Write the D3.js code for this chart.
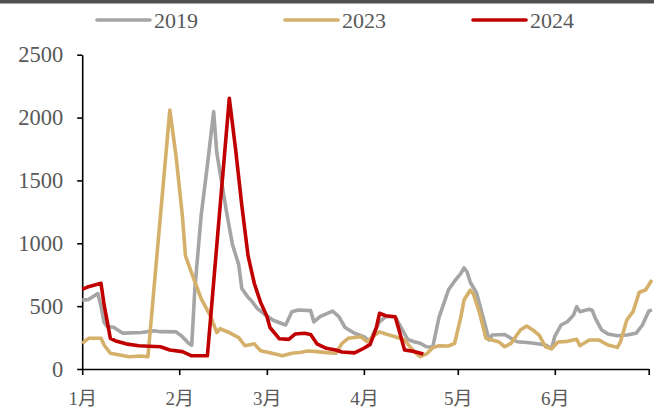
<!DOCTYPE html>
<html>
<head>
<meta charset="utf-8">
<script src="https://cdn.jsdelivr.net/npm/d3@7"></script>
<style>
  html, body { margin: 0; padding: 0; background: #fff; }
  svg { display: block; }
  text { font-family: "Liberation Serif", "Times New Roman", "Noto Sans CJK SC", serif; }
</style>
</head>
<body>
<svg id="chart" width="654" height="412"></svg>
<script>
// Series names and colours
const seriesNames = ["2019", "2023", "2024"];
const seriesColors = ["#A5A5A5", "#D5B06B", "#C00000"];

// Month-day of each observation and its value, per year
const dates2019 = ["01-01","01-03","01-06","01-07","01-08","01-09","01-11","01-14","01-20","01-24","01-26","01-31",
  "02-02","02-04","02-05","02-06","02-08","02-10","02-12","02-13","02-15","02-16","02-18","02-20","02-21","02-23",
  "02-24","02-26","02-28","03-03","03-07","03-09","03-11","03-15","03-16","03-18","03-22","03-24","03-26","03-29",
  "04-01","04-03","04-04","04-06","04-08","04-11","04-13","04-15","04-17","04-19","04-21","04-23","04-25","04-28",
  "04-30","05-02","05-03","05-04","05-05","05-07","05-09","05-11","05-12","05-16","05-18","05-20","05-24","05-27",
  "05-29","05-31","06-01","06-03","06-05","06-07","06-08","06-09","06-12","06-13","06-14","06-16","06-18","06-21",
  "06-24","06-27","06-29","07-01","07-02"];
const values2019 = [549,552,600,500,370,337,332,285,290,305,297,295,
  257,205,190,640,1220,1620,2047,1720,1420,1265,990,830,640,570,
  545,480,440,388,350,456,469,464,375,416,460,416,330,284,
  257,220,280,376,416,416,324,236,217,204,177,175,410,628,
  700,760,805,770,690,605,420,231,270,275,244,217,209,199,
  191,164,260,350,376,430,496,456,475,465,400,310,278,265,
  270,285,350,460,470];

const dates2023 = ["01-01","01-03","01-07","01-08","01-10","01-13","01-16","01-20","01-22","01-29","01-31",
  "02-02","02-03","02-05","02-08","02-11","02-13","02-14","02-17","02-20","02-22","02-25","02-27",
  "03-02","03-06","03-09","03-12","03-14","03-17","03-20","03-23","03-25","03-27","03-31",
  "04-02","04-04","04-06","04-08","04-11","04-14","04-17","04-19","04-21","04-23","04-25","04-28","04-30",
  "05-02","05-03","05-05","05-06","05-08","05-10","05-12","05-14","05-16","05-18","05-21","05-23","05-25",
  "05-27","05-29","05-31","06-02","06-05","06-08","06-09","06-12","06-15","06-18","06-21","06-22","06-24",
  "06-26","06-28","06-30","07-02"];
const values2023 = [204,244,244,191,125,111,98,103,98,2060,1690,
  1220,900,760,560,420,290,320,290,250,185,200,145,
  130,105,125,133,143,138,130,125,204,244,257,
  217,260,295,278,257,231,138,98,120,170,185,183,204,
  416,549,628,595,443,244,231,217,177,204,310,342,310,
  270,177,160,215,220,236,185,231,231,191,172,217,390,
  456,610,628,708];

const dates2024 = ["01-01","01-03","01-07","01-08","01-10","01-12","01-15","01-19","01-26","01-29",
  "02-02","02-05","02-10","02-17","02-19","02-21","02-23","02-25","02-27",
  "03-01","03-02","03-05","03-08","03-10","03-13","03-15","03-17","03-20","03-23","03-25","03-29",
  "04-01","04-03","04-05","04-06","04-08","04-11","04-12","04-14","04-17","04-20"];
const values2024 = [634,655,682,510,244,220,200,185,177,151,
  138,105,105,2153,1750,1300,900,680,530,
  420,330,240,236,278,284,275,200,165,151,135,128,
  165,196,330,443,424,416,330,151,140,120];

// Axis ticks
const yTicks = [0, 500, 1000, 1500, 2000, 2500];
const monthTicks = ["01-01","02-01","03-01","04-01","05-01","06-01","07-01"];
const monthLabels = ["1月","2月","3月","4月","5月","6月",""];

const parseMD = d3.timeParse("%m-%d");

const series = [
  { name: seriesNames[0], color: seriesColors[0], dates: dates2019, values: values2019 },
  { name: seriesNames[1], color: seriesColors[1], dates: dates2023, values: values2023 },
  { name: seriesNames[2], color: seriesColors[2], dates: dates2024, values: values2024 }
].map(s => ({ ...s, points: s.dates.map((d, i) => ({ date: parseMD(d), value: s.values[i] })) }));

const svg = d3.select("#chart");
const W = 654, H = 412;

// top rule
svg.append("rect").attr("x", 0).attr("y", 0).attr("width", W).attr("height", 3.5).attr("fill", "#4F4F4F");

const x = d3.scaleTime()
  .domain([parseMD("01-01"), parseMD("07-01")])
  .range([82.2, 648.7]);
const y = d3.scaleLinear().domain([0, 2500]).range([369, 54.7]);

// y axis
const yAxis = svg.append("g").attr("transform", "translate(82.2,0)")
  .call(d3.axisLeft(y).tickValues(yTicks).tickFormat(d3.format("d"))
    .tickSize(5).tickPadding(14).tickSizeOuter(0));
yAxis.select(".domain").attr("stroke", "#000").attr("stroke-width", 1.6);
yAxis.selectAll(".tick line").attr("stroke", "#000").attr("stroke-width", 1.6);
yAxis.selectAll(".tick text").attr("fill", "#595959").style("font-size", "22.5px")
  .style("font-family", "'Liberation Serif','Times New Roman',serif");

// x axis
const tickDates = monthTicks.map(parseMD);
const xAxis = svg.append("g").attr("transform", "translate(0,369)")
  .call(d3.axisBottom(x).tickValues(tickDates).tickSize(6).tickPadding(17).tickSizeOuter(0)
    .tickFormat((d, i) => monthLabels[i]));
xAxis.select(".domain").attr("stroke", "#000").attr("stroke-width", 1.6);
xAxis.selectAll(".tick line").attr("stroke", "#000").attr("stroke-width", 1.6);
xAxis.selectAll(".tick text").attr("fill", "#595959").style("font-size", "19px");

// lines
const line = d3.line().x(d => x(d.date)).y(d => y(d.value)).curve(d3.curveLinear);
svg.append("g").selectAll("path").data(series).join("path")
  .attr("d", s => line(s.points))
  .attr("fill", "none")
  .attr("stroke", s => s.color)
  .attr("stroke-width", 3.6)
  .attr("stroke-linejoin", "round")
  .attr("stroke-linecap", "butt");

// legend
const legendX = [97, 285, 473];
const legend = svg.append("g").selectAll("g").data(series).join("g")
  .attr("transform", (s, i) => `translate(${legendX[i]},20)`);
legend.append("line").attr("x1", 0).attr("x2", 53).attr("y1", 0).attr("y2", 0)
  .attr("stroke", s => s.color).attr("stroke-width", 3.6).attr("stroke-linecap", "round");
legend.append("text").attr("x", 57).attr("y", 0).attr("dy", "0.35em")
  .attr("fill", "#595959").style("font-size", "22px").text(s => s.name);
</script>
</body>
</html>
